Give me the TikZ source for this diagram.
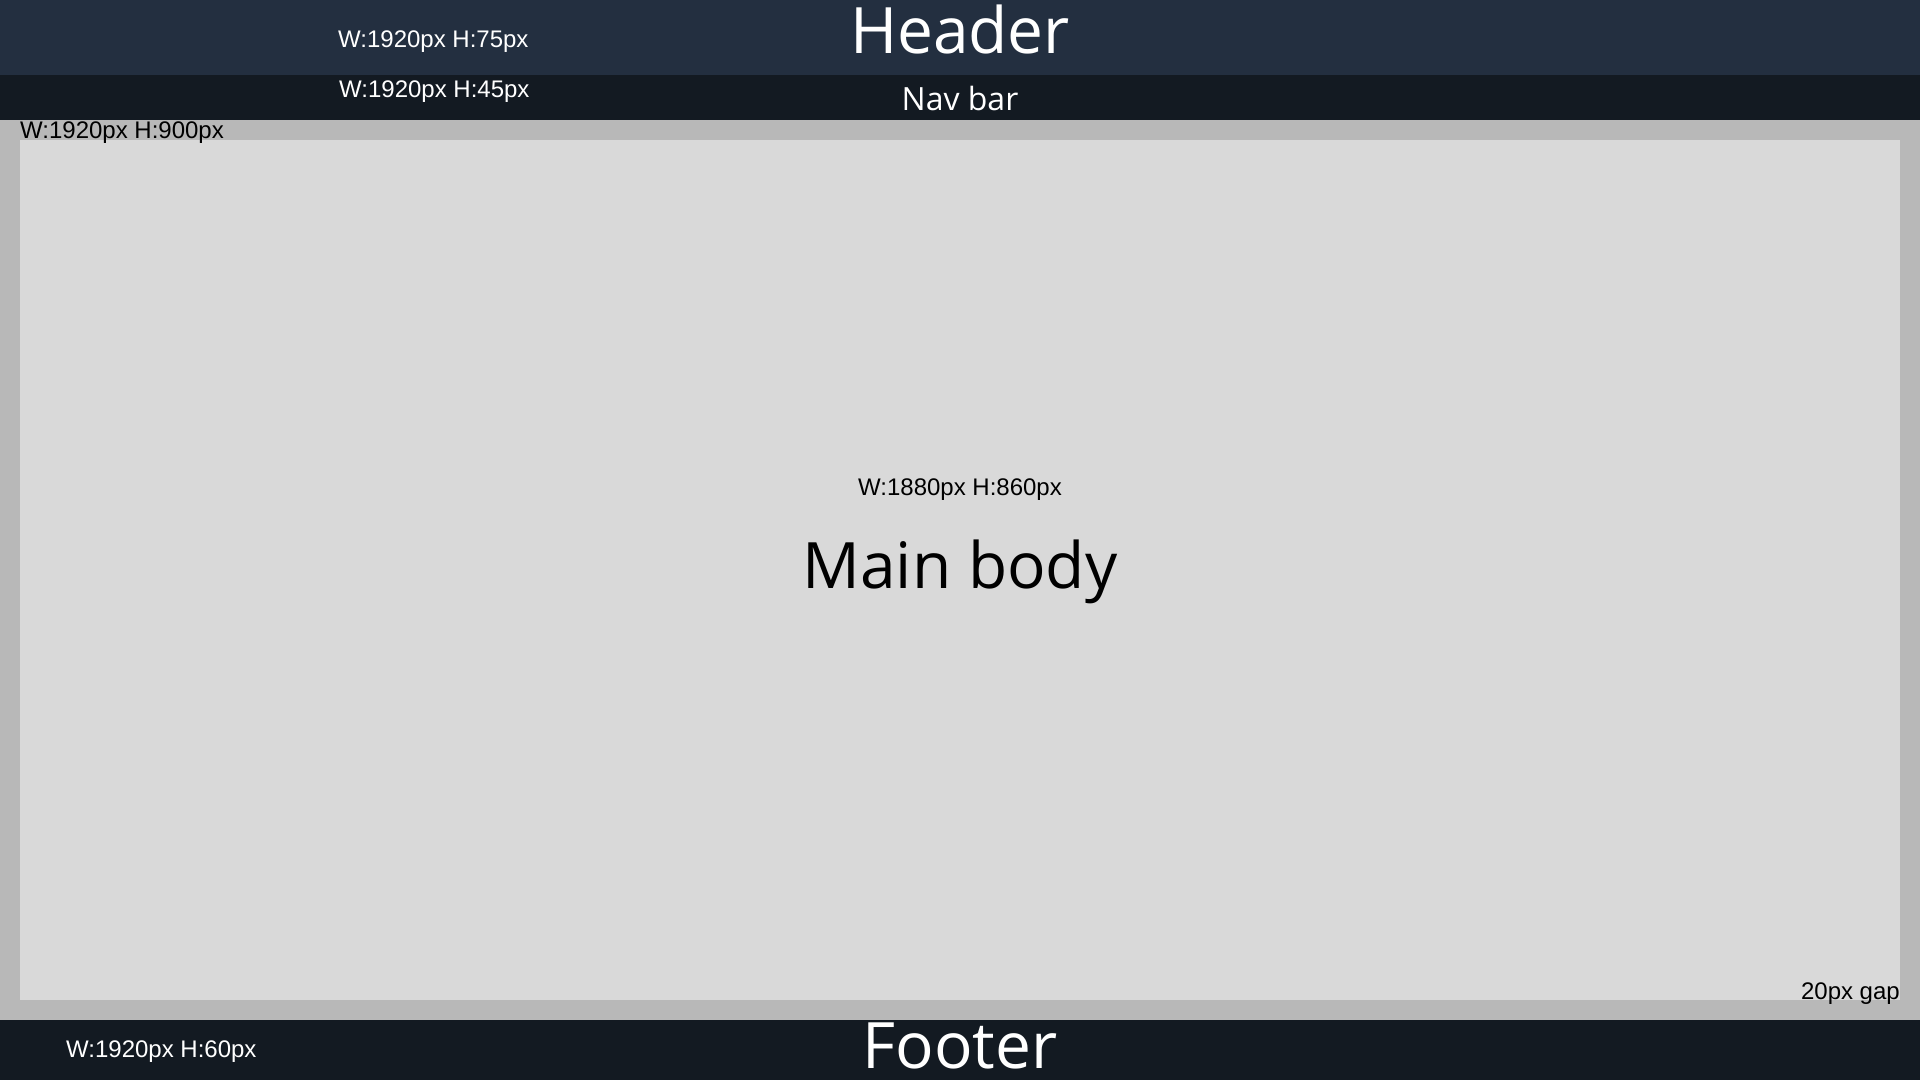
\documentclass[tikz,border=0pt]{standalone}
\usepackage{fontspec}
\setmainfont{Liberation Sans}
\newfontfamily\labelfont{Open Sans}
\definecolor{headblue}{RGB}{35,47,64}
\definecolor{navdark}{RGB}{19,26,34}
\definecolor{bodyouter}{RGB}{184,184,184}
\definecolor{bodyinner}{RGB}{217,217,217}
\tikzset{
  dimtext/.style={font=\fontsize{24}{24}\selectfont, inner sep=0pt, anchor=base west},
  bigtext/.style={font=\labelfont\fontsize{64}{64}\selectfont, inner sep=0pt, anchor=base},
}
\begin{document}
\begin{tikzpicture}[x=1pt, y=-1pt]
        \useasboundingbox (0,0) rectangle (1920,1080);

        \fill[color=headblue] (0,0) rectangle (1920,75);
        \fill[color=navdark] (0,75) rectangle (1920,120);
        \fill[color=bodyouter] (0,120) rectangle (1920,1020);
        \fill[color=bodyinner] (20,140) rectangle (1900,1000);
        \fill[color=navdark] (0,1020) rectangle (1920,1080);

        \node[dimtext, text=white] (hdim) at (338,47) {W:1920px H:75px};
        \node[bigtext, text=white] (head) at (960,53) {Header};

        \node[dimtext, text=white] (ndim) at (339,97) {W:1920px H:45px};
        \node[bigtext, text=white, font=\labelfont\fontsize{32}{32}\selectfont] (nav) at (960,110) {Nav bar};

        \node[dimtext] (odim) at (20,138) {W:1920px H:900px};
        \node[dimtext, anchor=base] (idim) at (960,495) {W:1880px H:860px};
        \node[bigtext] (main) at (960,588) {Main body};
        \node[dimtext, anchor=base east] (gap) at (1900,999) {20px gap};

        \node[dimtext, text=white] (fdim) at (66,1057) {W:1920px H:60px};
        \node[bigtext, text=white] (foot) at (960,1068) {Footer};

    \end{tikzpicture}
\end{document}
